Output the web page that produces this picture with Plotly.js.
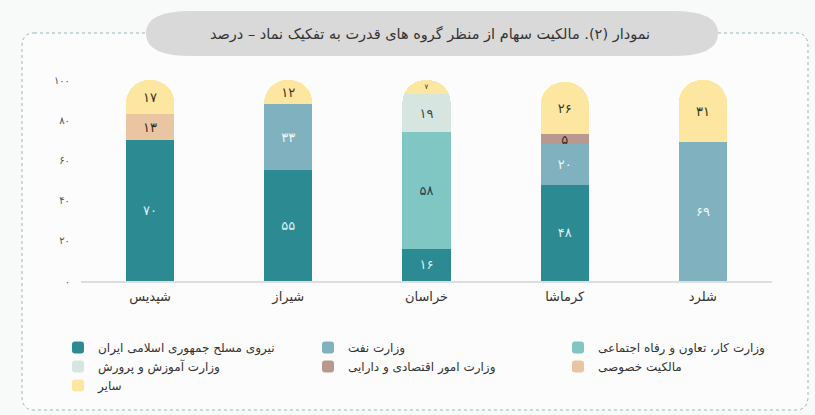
<!DOCTYPE html>
<html>
<head>
<meta charset="utf-8">
<script src="https://cdn.plot.ly/plotly-3.0.1.min.js"></script>
<style>
  html, body { margin: 0; padding: 0; background: #f8f9f9; }
  #chart { width: 815px; height: 415px; }
</style>
</head>
<body>
<div id="chart"></div>
<script>
"use strict"
// categories (left to right)
const companies = ['شپدیس', 'شیراز', 'خراسان', 'کرماشا', 'شلرد'];

// ownership groups, bottom of stack first
const armedForces = [70, 55, 16, 48, null];   // نیروی مسلح
const oilMinistry = [null, 33, null, 20, 69];   // وزارت نفت
const labourMinistry = [null, null, 58, null, null]; // وزارت کار
const educationMinistry = [null, null, 19, null, null]; // آموزش و پرورش
const economyMinistry = [null, null, null, 5, null]; // امور اقتصادی
const privateOwners = [13, null, null, null, null]; // مالکیت خصوصی
const others = [17, 12, 7, 26, 31];               // سایر

const seriesNames = [
    'نیروی مسلح جمهوری اسلامی ایران',
    'وزارت نفت',
    'وزارت کار، تعاون و رفاه اجتماعی',
    'وزارت آموزش و پرورش',
    'وزارت امور اقتصادی و دارایی',
    'مالکیت خصوصی',
    'سایر'
];
const yTickVals = [0, 20, 40, 60, 80, 100];
const yTickText = ['۰', '۲۰', '۴۰', '۶۰', '۸۰', '۱۰۰'];

const colors = ['#2c8a93', '#80b1bf', '#80c6c2', '#d7e5e0', '#b9998f', '#eac5a2', '#fde6a0'];
const textColors = ['#dcf0f2', '#eef7f9', '#23424a', '#3a4a48', '#3b2b27', '#3b2b20', '#3b3322'];

function toFa(v) {
    if (v === null) return '';
    return String(v).replace(/[0-9]/g, d => '۰۱۲۳۴۵۶۷۸۹'[d]);
}

const allValues = [armedForces, oilMinistry, labourMinistry, educationMinistry, economyMinistry, privateOwners, others];
const data = allValues.map((vals, i) => ({
    type: 'bar',
    name: seriesNames[i],
    x: companies,
    y: vals,
    text: vals.map(toFa),
    textposition: 'inside',
    insidetextanchor: 'middle',
    textangle: 0,
    constraintext: 'none',
    insidetextfont: { family: 'DejaVu Sans', size: 13, color: textColors[i] },
    hoverinfo: 'none',
    marker: { color: colors[i], line: { width: 0 }, cornerradius: '48%' }
}));

// plot area in pixels, used to place the frame decorations
const L = 81, R = 43, T = 78, B = 134, W = 815, H = 415;
const pw = W - L - R, ph = H - T - B;
const px = x => (x - L) / pw;
const py = y => (H - B - y) / ph;

function roundRect(x0, y0, x1, y1, r, rx) {
    rx = rx || r;
    return 'M' + px(x0 + rx) + ',' + py(y0) +
        ' L' + px(x1 - rx) + ',' + py(y0) +
        ' Q' + px(x1) + ',' + py(y0) + ' ' + px(x1) + ',' + py(y0 + r) +
        ' L' + px(x1) + ',' + py(y1 - r) +
        ' Q' + px(x1) + ',' + py(y1) + ' ' + px(x1 - rx) + ',' + py(y1) +
        ' L' + px(x0 + rx) + ',' + py(y1) +
        ' Q' + px(x0) + ',' + py(y1) + ' ' + px(x0) + ',' + py(y1 - r) +
        ' L' + px(x0) + ',' + py(y0 + r) +
        ' Q' + px(x0) + ',' + py(y0) + ' ' + px(x0 + rx) + ',' + py(y0) + ' Z';
}

const layout = {
    width: W,
    height: H,
    margin: { l: L, r: R, t: T, b: B },
    paper_bgcolor: '#f8f9f9',
    plot_bgcolor: 'rgba(0,0,0,0)',
    barmode: 'stack',
    bargap: 0.65,
    showlegend: true,
    font: { family: 'DejaVu Sans', color: '#333' },
    title: {
        text: 'نمودار (۲). مالکیت سهام از منظر گروه های قدرت به تفکیک نماد – درصد',
        x: 430 / W, xref: 'container', xanchor: 'center',
        y: 1 - 34 / H, yref: 'container', yanchor: 'middle',
        font: { family: 'DejaVu Sans', size: 14.5, color: '#333' }
    },
    xaxis: {
        showgrid: false,
        zeroline: false,
        showline: true,
        linecolor: '#dedede',
        linewidth: 1.5,
        ticks: '',
        tickfont: { family: 'DejaVu Sans', size: 13, color: '#333' },
        ticklabelstandoff: 3,
        fixedrange: true
    },
    yaxis: {
        range: [0, 101],
        tickvals: yTickVals,
        ticktext: yTickText,
        showgrid: false,
        zeroline: false,
        showline: false,
        ticks: '',
        tickfont: { family: 'DejaVu Sans', size: 10, color: '#555' },
        ticklabelstandoff: 10,
        fixedrange: true
    },
    legend: {
        orientation: 'h',
        xref: 'paper', yref: 'paper',
        x: px(58), xanchor: 'left',
        y: py(333), yanchor: 'top',
        traceorder: 'normal',
        entrywidth: 205,
        entrywidthmode: 'pixels',
        itemwidth: 30,
        font: { family: 'DejaVu Sans', size: 12, color: '#333' },
        bgcolor: 'rgba(0,0,0,0)'
    },
    shapes: [
        {
            type: 'path', xref: 'paper', yref: 'paper', layer: 'below',
            path: roundRect(22, 33, 808, 410, 14, 12),
            line: { color: '#9fb3bd', width: 1, dash: 'dot' },
            fillcolor: 'rgba(255,255,255,0.55)'
        },
        {
            type: 'path', xref: 'paper', yref: 'paper', layer: 'below',
            path: roundRect(146, 11, 718, 56, 22, 45),
            line: { width: 0 },
            fillcolor: '#d9d9d9'
        }
    ]
};

Plotly.newPlot(document.getElementById('chart'), data, layout, { staticPlot: true });
</script>
</body>
</html>
